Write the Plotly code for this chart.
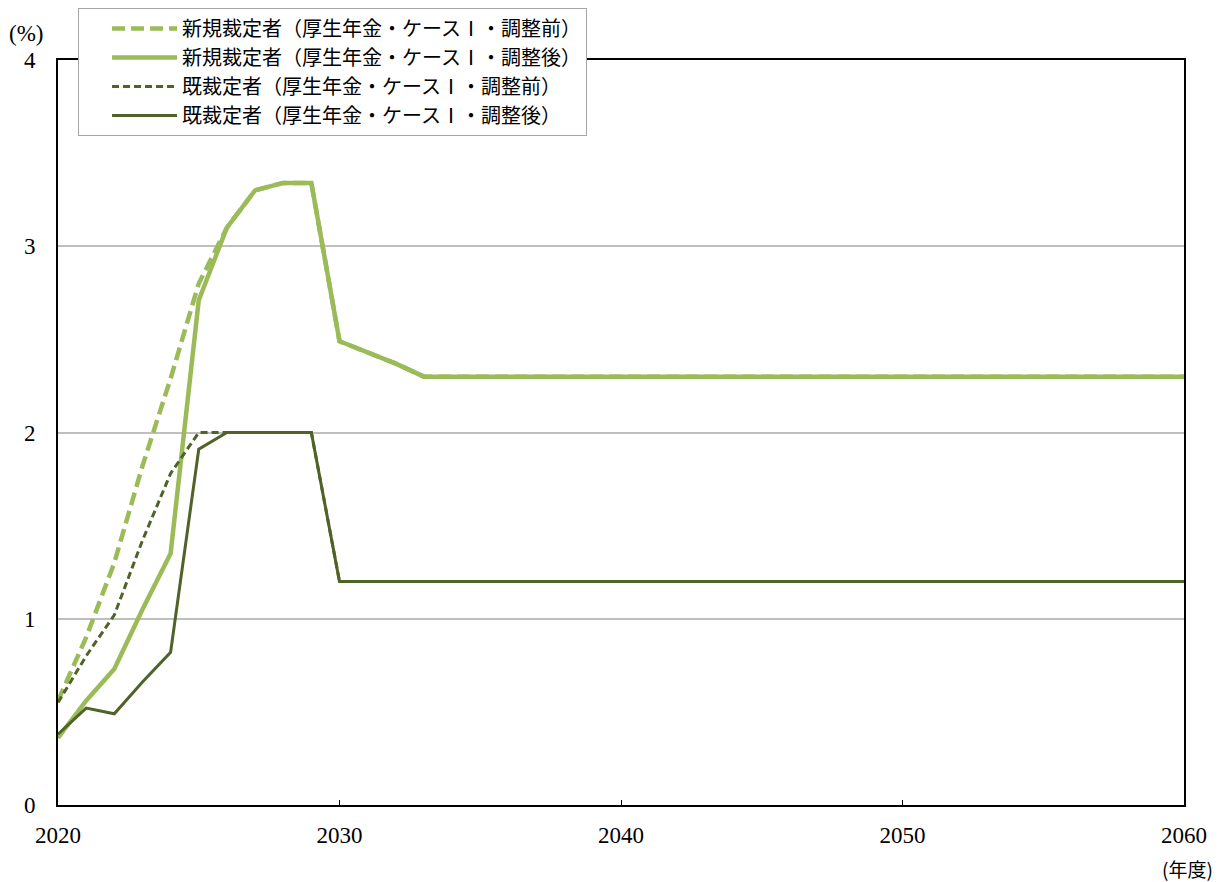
import plotly.graph_objects as go

years = list(range(2020, 2061))

new_pre = [0.56, 0.90, 1.30, 1.82, 2.29, 2.80, 3.10, 3.30, 3.34, 3.34,
           2.49, 2.43, 2.37, 2.30, 2.30, 2.30, 2.30, 2.30, 2.30, 2.30,
           2.30, 2.30, 2.30, 2.30, 2.30, 2.30, 2.30, 2.30, 2.30, 2.30,
           2.30, 2.30, 2.30, 2.30, 2.30, 2.30, 2.30, 2.30, 2.30, 2.30, 2.30]
new_post = [0.36, 0.56, 0.73, 1.05, 1.35, 2.71, 3.10, 3.30, 3.34, 3.34,
            2.49, 2.43, 2.37, 2.30, 2.30, 2.30, 2.30, 2.30, 2.30, 2.30,
            2.30, 2.30, 2.30, 2.30, 2.30, 2.30, 2.30, 2.30, 2.30, 2.30,
            2.30, 2.30, 2.30, 2.30, 2.30, 2.30, 2.30, 2.30, 2.30, 2.30, 2.30]
old_pre = [0.55, 0.80, 1.02, 1.42, 1.78, 2.00, 2.00, 2.00, 2.00, 2.00,
           1.20, 1.20, 1.20, 1.20, 1.20, 1.20, 1.20, 1.20, 1.20, 1.20,
           1.20, 1.20, 1.20, 1.20, 1.20, 1.20, 1.20, 1.20, 1.20, 1.20,
           1.20, 1.20, 1.20, 1.20, 1.20, 1.20, 1.20, 1.20, 1.20, 1.20, 1.20]
old_post = [0.38, 0.52, 0.49, 0.66, 0.82, 1.91, 2.00, 2.00, 2.00, 2.00,
            1.20, 1.20, 1.20, 1.20, 1.20, 1.20, 1.20, 1.20, 1.20, 1.20,
            1.20, 1.20, 1.20, 1.20, 1.20, 1.20, 1.20, 1.20, 1.20, 1.20,
            1.20, 1.20, 1.20, 1.20, 1.20, 1.20, 1.20, 1.20, 1.20, 1.20, 1.20]

names = ["新規裁定者（厚生年金・ケースⅠ・調整前）",
         "新規裁定者（厚生年金・ケースⅠ・調整後）",
         "既裁定者（厚生年金・ケースⅠ・調整前）",
         "既裁定者（厚生年金・ケースⅠ・調整後）"]

x_ticks = [2020, 2030, 2040, 2050, 2060]
y_ticks = [0, 1, 2, 3, 4]

LIGHT = "#9BBB59"
DARK = "#4F6228"

fig = go.Figure()
fig.add_trace(go.Scatter(x=years, y=new_pre, name=names[0], mode="lines",
                         line=dict(color=LIGHT, width=4.5, dash="13px,6px")))
fig.add_trace(go.Scatter(x=years, y=new_post, name=names[1], mode="lines",
                         line=dict(color=LIGHT, width=4.5)))
fig.add_trace(go.Scatter(x=years, y=old_pre, name=names[2], mode="lines",
                         line=dict(color=DARK, width=3, dash="7px,4px")))
fig.add_trace(go.Scatter(x=years, y=old_post, name=names[3], mode="lines",
                         line=dict(color=DARK, width=3)))

serif = "Liberation Serif, DejaVu Serif, serif"
jp = "Noto Sans CJK JP, sans-serif"

fig.update_layout(
    width=1228, height=882,
    margin=dict(l=58, r=44, t=60, b=77, autoexpand=False),
    plot_bgcolor="white", paper_bgcolor="white",
    font=dict(family=serif, size=23, color="#000000"),
    showlegend=True,
    legend=dict(x=0.0178, y=1 - 8 / 882, xref="paper", yref="container",
                xanchor="left", yanchor="top",
                bgcolor="white", bordercolor="#A6A6A6", borderwidth=1,
                font=dict(family=jp, size=20, color="#000000"),
                itemwidth=65, indentation=28),
    xaxis=dict(range=[2020, 2060], tickmode="array", tickvals=x_ticks,
               ticktext=[str(v) for v in x_ticks],
               showgrid=False, zeroline=False,
               showline=True, linecolor="#000000", linewidth=2, mirror=True,
               ticks="inside", ticklen=5, tickcolor="#000000",
               ticklabelstandoff=8,
               tickfont=dict(family=serif, size=23)),
    yaxis=dict(range=[0, 4], tickmode="array", tickvals=y_ticks,
               ticktext=[str(v) for v in y_ticks],
               showgrid=True, gridcolor="#BFBFBF", gridwidth=1.5, zeroline=False,
               showline=True, linecolor="#000000", linewidth=2, mirror=True,
               ticks="", ticklabelstandoff=16,
               tickfont=dict(family=serif, size=23)),
    annotations=[
        dict(text="(%)", xref="paper", yref="paper", x=-0.028, y=1.0362,
             xanchor="center", yanchor="middle", showarrow=False,
             font=dict(family=serif, size=23)),
        dict(text="(年度)", xref="paper", yref="paper", x=1.0027, y=-0.0846,
             xanchor="center", yanchor="middle", showarrow=False,
             font=dict(family=jp, size=19)),
    ],
)

fig.write_html("out.html",
               config={"displayModeBar": False},
               post_script="document.body.style.margin='0';")
